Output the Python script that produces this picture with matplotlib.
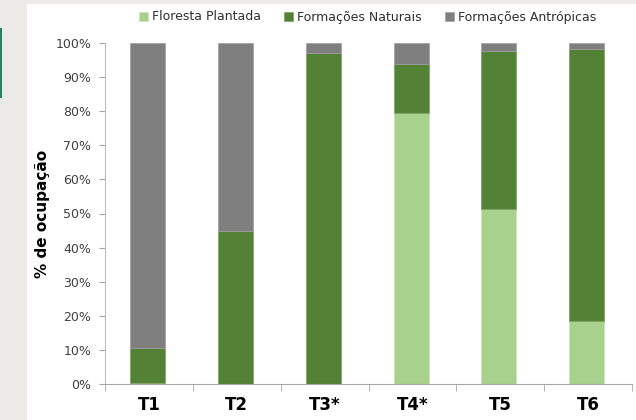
import numpy as np
import matplotlib.pyplot as plt
from matplotlib.patches import Rectangle

categories = ['T1', 'T2', 'T3*', 'T4*', 'T5', 'T6']
plantada = [0.4, 0.0, 0.0, 79.6, 51.2, 18.5]
naturais = [10.1, 45.0, 97.0, 14.2, 46.4, 79.7]
antropicas = [89.5, 55.0, 3.0, 6.2, 2.4, 1.8]

c_plant = '#a9d18e'
c_nat = '#538135'
c_antr = '#7f7f7f'

fig = plt.figure(figsize=(6.36, 4.2), dpi=100)
fig.patch.set_facecolor('#edebe8')
fig.patches.append(Rectangle((27/636, 0), 1, 1 - 4/420, transform=fig.transFigure,
                             facecolor='white', edgecolor='none', zorder=-10))
fig.patches.append(Rectangle((0, 1 - 98/420), 2/636, 70/420, transform=fig.transFigure,
                             facecolor='#1b8a5a', edgecolor='none', zorder=-5))

ax = fig.add_axes([105/636, 1 - 384/420, 527/636, 341/420])
ax.set_facecolor('white')

x = np.arange(len(categories))
w = 0.40
b1 = np.array(plantada)
b2 = b1 + np.array(naturais)
ax.bar(x - 0.015, plantada, w, color=c_plant, label='Floresta Plantada', edgecolor='#c8e0b8', linewidth=0.5)
ax.bar(x - 0.015, naturais, w, bottom=b1, color=c_nat, label='Formações Naturais', edgecolor='#7aa060', linewidth=0.5)
ax.bar(x - 0.015, antropicas, w, bottom=b2, color=c_antr, label='Formações Antrópicas', edgecolor='#a0a0a0', linewidth=0.5)

ax.set_xlim(-0.5, len(categories) - 0.5)
ax.set_ylim(0, 100)
ax.set_yticks(np.arange(0, 101, 10))
ax.set_yticklabels([f'{v}%' for v in range(0, 101, 10)], fontsize=9, color='#404040')
ax.set_xticks(x)
ax.set_xticklabels(categories, fontsize=12, fontweight='bold')
ax.set_xticks(np.arange(-0.5, len(categories)), minor=True)
ax.tick_params(axis='x', which='major', length=0, pad=9)
ax.tick_params(axis='x', which='minor', length=5, color='#a6a6a6')
ax.tick_params(axis='y', length=4, color='#a6a6a6', pad=6)

for s in ['top', 'right']:
    ax.spines[s].set_visible(False)
ax.spines['left'].set_color('#bfbfbf')
ax.spines['bottom'].set_color('#a6a6a6')

ax.set_ylabel('% de ocupação', fontsize=11, fontweight='bold', labelpad=4)

leg = fig.legend(loc='center', bbox_to_anchor=(0.578, 1 - 17/420), ncol=3, frameon=False,
                 fontsize=9, handlelength=0.7, handleheight=0.7, handletextpad=0.3,
                 columnspacing=1.9)
for t in leg.get_texts():
    t.set_color('#303030')

fig.savefig('out.png', dpi=100, facecolor=fig.get_facecolor())
